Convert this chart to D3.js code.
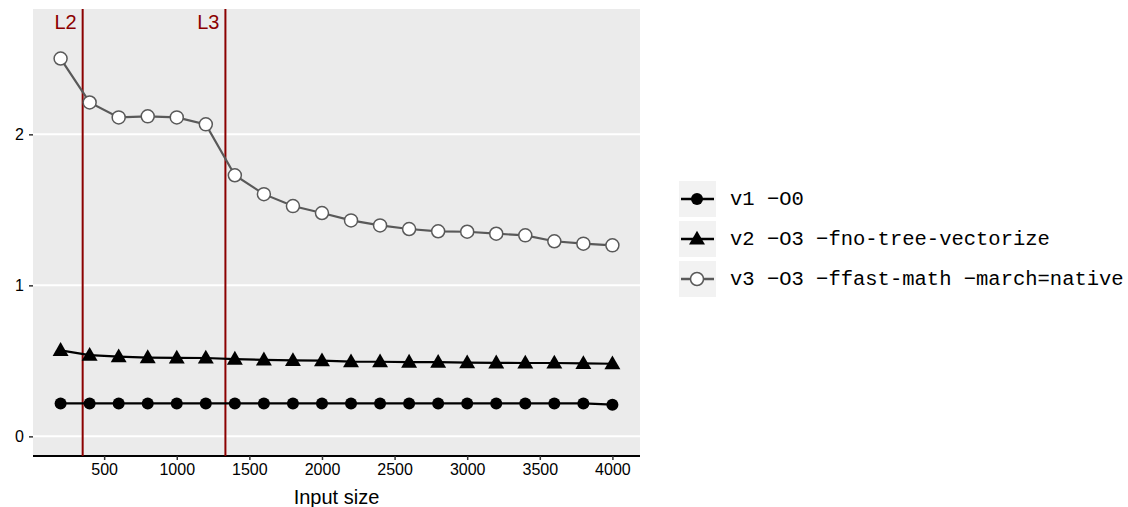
<!DOCTYPE html>
<html>
<head>
	<meta charset="utf-8">
	<script src="https://cdn.jsdelivr.net/npm/d3@7"></script>
	<style>
		body { margin: 0; background: #fff; }
	</style>
</head>
<body>
<script>
// data
var sizes = [200, 400, 600, 800, 1000, 1200, 1400, 1600, 1800, 2000, 2200, 2400, 2600, 2800, 3000, 3200, 3400, 3600, 3800, 4000];
var v1 = [0.218, 0.218, 0.218, 0.218, 0.218, 0.218, 0.218, 0.218, 0.218, 0.218, 0.218, 0.218, 0.218, 0.218, 0.218, 0.218, 0.218, 0.218, 0.218, 0.210];
var v2 = [0.570, 0.538, 0.528, 0.522, 0.520, 0.519, 0.512, 0.507, 0.503, 0.501, 0.495, 0.494, 0.492, 0.491, 0.488, 0.487, 0.486, 0.486, 0.483, 0.481];
var v3 = [2.502, 2.211, 2.112, 2.119, 2.112, 2.066, 1.729, 1.604, 1.525, 1.479, 1.430, 1.397, 1.373, 1.358, 1.355, 1.342, 1.331, 1.292, 1.276, 1.265];
var seriesNames = ["v1 \u2212O0", "v2 \u2212O3 \u2212fno-tree-vectorize", "v3 \u2212O3 \u2212ffast-math \u2212march=native"];
var cacheLabels = ["L2", "L3"];
var cacheSizes = [352, 1335];
var xTicks = [500, 1000, 1500, 2000, 2500, 3000, 3500, 4000];
var yTicks = [0, 1, 2];

var width = 1128, height = 507;
var pLeft = 33, pRight = 640, pTop = 9, pBottom = 456;

var svg = d3.select("body").append("svg")
	.attr("width", width)
	.attr("height", height);

var x = d3.scaleLinear().domain([10, 4190]).range([pLeft, pRight]);
var y = d3.scaleLinear().domain([-0.13, 2.83]).range([pBottom, pTop]);

// panel
svg.append("rect")
	.attr("x", pLeft).attr("y", pTop)
	.attr("width", pRight - pLeft).attr("height", pBottom - pTop)
	.attr("fill", "#EBEBEB");

svg.selectAll(".grid").data(yTicks).enter().append("line")
	.attr("x1", pLeft).attr("x2", pRight)
	.attr("y1", function(d){ return y(d); })
	.attr("y2", function(d){ return y(d); })
	.attr("stroke", "#fff").attr("stroke-width", 2);

// axes
var xAxis = svg.append("g")
	.attr("transform", "translate(0," + pBottom + ")")
	.call(d3.axisBottom(x).tickValues(xTicks).tickSize(4).tickPadding(4).tickFormat(d3.format("d")));
xAxis.select(".domain").attr("stroke", "#000").attr("stroke-width", 1.8).attr("d", "M" + pLeft + ",0H" + pRight);
xAxis.selectAll(".tick line").attr("stroke", "#333").attr("stroke-width", 1.5);
xAxis.selectAll("text").attr("font-family", "Liberation Sans, Arial, sans-serif").attr("font-size", 16).attr("fill", "#000");

var yAxis = svg.append("g")
	.attr("transform", "translate(" + pLeft + ",0)")
	.call(d3.axisLeft(y).tickValues(yTicks).tickSize(4).tickPadding(5).tickFormat(d3.format("d")));
yAxis.select(".domain").remove();
yAxis.selectAll(".tick line").attr("stroke", "#333").attr("stroke-width", 1.5);
yAxis.selectAll("text").attr("font-family", "Liberation Sans, Arial, sans-serif").attr("font-size", 16).attr("fill", "#000");

svg.append("text")
	.attr("x", (pLeft + pRight) / 2).attr("y", 504)
	.attr("text-anchor", "middle")
	.attr("font-family", "Liberation Sans, Arial, sans-serif")
	.attr("font-size", 20)
	.text("Input size");

// cache lines
cacheSizes.forEach(function(c, i){
	svg.append("line")
		.attr("x1", x(c)).attr("x2", x(c))
		.attr("y1", pTop).attr("y2", pBottom)
		.attr("stroke", "#8B0000").attr("stroke-width", 2);
	svg.append("text")
		.attr("x", x(c) - 6).attr("y", 29)
		.attr("text-anchor", "end")
		.attr("font-family", "Liberation Sans, Arial, sans-serif")
		.attr("font-size", 20)
		.attr("fill", "#8B0000")
		.text(cacheLabels[i]);
});

var series = [
	{ vals: v1, color: "#000", shape: "dot" },
	{ vals: v2, color: "#000", shape: "tri" },
	{ vals: v3, color: "#595959", shape: "open" }
];

var line = d3.line()
	.x(function(d){ return x(d[0]); })
	.y(function(d){ return y(d[1]); });

var tri = d3.symbol().type(d3.symbolTriangle).size(110);

function drawMark(g, shape, color){
	if (shape === "dot") {
		g.append("circle").attr("r", 6).attr("fill", "#000");
	} else if (shape === "tri") {
		g.append("path").attr("d", tri()).attr("fill", "#000").attr("transform", "translate(0,1)");
	} else {
		g.append("circle").attr("r", 6.5).attr("fill", "#fff").attr("stroke", color).attr("stroke-width", 1.5);
	}
}

series.forEach(function(s){
	var pts = sizes.map(function(v, i){ return [v, s.vals[i]]; });
	svg.append("path")
		.attr("d", line(pts))
		.attr("fill", "none")
		.attr("stroke", s.color)
		.attr("stroke-width", 2.2);
	svg.selectAll(null).data(pts).enter().append("g")
		.attr("transform", function(d){ return "translate(" + x(d[0]) + "," + y(d[1]) + ")"; })
		.each(function(){ drawMark(d3.select(this), s.shape, s.color); });
});

// legend
var rowY = [199, 239, 279];
series.forEach(function(s, i){
	var g = svg.append("g").attr("transform", "translate(697," + rowY[i] + ")");
	g.append("rect").attr("x", -18).attr("y", -18).attr("width", 37).attr("height", 36).attr("fill", "#F2F2F2");
	g.append("line").attr("x1", -16).attr("x2", 17).attr("stroke", s.color).attr("stroke-width", 2.5);
	drawMark(g, s.shape, s.color);
	g.append("text")
		.attr("x", 33).attr("y", 6)
		.attr("font-family", "Liberation Mono, Courier New, monospace")
		.attr("font-size", 20.5)
		.attr("fill", "#000")
		.text(seriesNames[i]);
});
</script>
</body>
</html>
